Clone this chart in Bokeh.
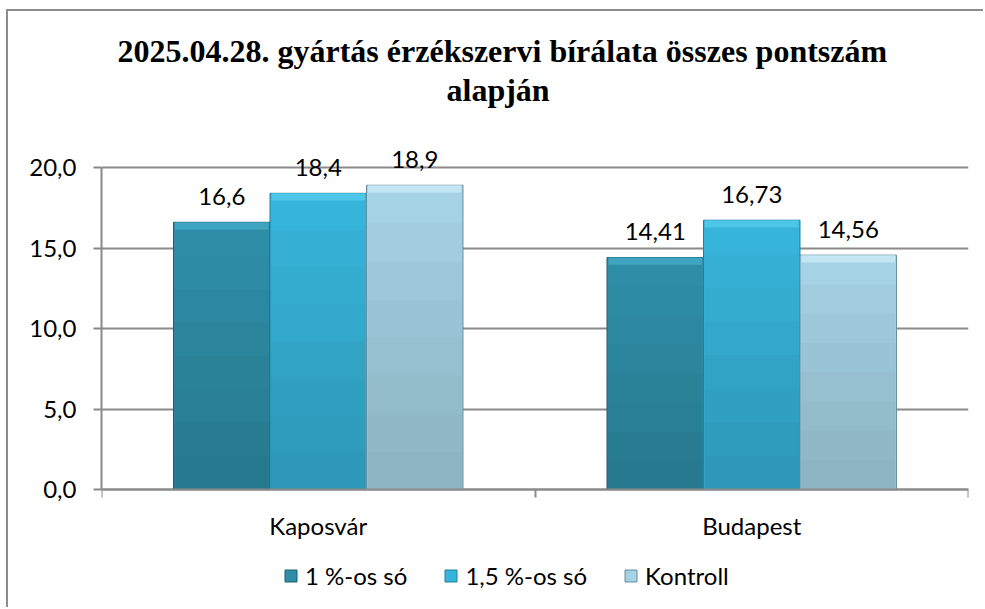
from bokeh.plotting import figure
from bokeh.models import (ColumnDataSource, Range1d, FixedTicker, Title, Legend,
                          LegendItem, LabelSet)
from bokeh.core.properties import value
from bokeh.transform import dodge
from bokeh.embed import file_html
from bokeh.resources import INLINE

# ---- data ----
categories = ["Kaposvár", "Budapest"]
series = ["1 %-os só", "1,5 %-os só", "Kontroll"]
vals_1 = [16.6, 14.41]
vals_15 = [18.4, 16.73]
vals_k = [18.9, 14.56]
labels_1 = ["16,6", "14,41"]
labels_15 = ["18,4", "16,73"]
labels_k = ["18,9", "14,56"]
y_ticks = [0, 5, 10, 15, 20]
y_tick_labels = ["0,0", "5,0", "10,0", "15,0", "20,0"]
title_line1 = "2025.04.28. gyártás érzékszervi bírálata összes pontszám"
title_line2 = "alapján"

# ---- styles ----
body_cols = ["#2e8ea8", "#37b4d9", "#a5d2e4"]
top_cols = ["#3ea4c0", "#4dc6e9", "#c3e6f4"]
edge_cols = ["#1e5c6e", "#22809b", "#6a8e9d"]
GRID = "#8a8a8a"
FONT = "Lato"
FS = "24px"
BW = 0.2226
offsets = [-BW, 0.0, BW]
shade_steps = [0.875, 0.75, 0.625, 0.5, 0.375, 0.25, 0.125]  # soft bottom shading

xs = [i + 0.5 for i in range(len(categories))]
cols = dict(x=xs, v1=vals_1, v15=vals_15, vk=vals_k,
            l1=labels_1, l15=labels_15, lk=labels_k)
for key, vals in [("1", vals_1), ("15", vals_15), ("k", vals_k)]:
    cols["t" + key] = [v - 0.45 for v in vals]
    for j, f in enumerate(shade_steps):
        cols["s%s_%d" % (key, j)] = [v * f for v in vals]
source = ColumnDataSource(cols)

p = figure(width=977, height=598, x_range=Range1d(0, len(categories)),
           y_range=Range1d(-7.45, 23.73), output_backend="svg", toolbar_location=None,
           min_border_left=93, min_border_right=17, min_border_top=96,
           min_border_bottom=0)
p.styles = {"border-left": "2px solid #8c8c8c", "border-top": "2px solid #8c8c8c",
            "margin-left": "6px", "margin-top": "9px"}
p.outline_line_color = None
p.background_fill_color = "white"
p.border_fill_color = "white"

renderers = []
for k, key in enumerate(["1", "15", "k"]):
    xk = dodge("x", offsets[k], range=p.x_range)
    r = p.vbar(x=xk, top="v" + key, bottom=0, width=BW, source=source,
               fill_color=body_cols[k], line_color=edge_cols[k], line_width=1)
    for j in range(len(shade_steps)):
        p.vbar(x=xk, top="s%s_%d" % (key, j), bottom=0, width=BW * 0.985, source=source,
               fill_color="#000000", fill_alpha=0.02, line_color=None)
    p.vbar(x=xk, top="v" + key, bottom="t" + key, width=BW * 0.97,
           source=source, fill_color=top_cols[k], line_color=None)
    renderers.append(r)
    p.add_layout(LabelSet(x=xk, y="v" + key, text="l" + key,
                          source=source, text_align="center", text_baseline="middle",
                          y_offset=26, text_font=value(FONT), text_font_size=FS,
                          text_color="#000000"))

# y axis
p.yaxis.ticker = FixedTicker(ticks=y_ticks)
p.yaxis.bounds = (y_ticks[0], y_ticks[-1])
p.yaxis.major_label_overrides = {t: l for t, l in zip(y_ticks, y_tick_labels)}
p.yaxis.major_tick_out = 8
p.yaxis.major_tick_in = 0
p.yaxis.minor_tick_line_color = None
p.yaxis.axis_line_color = GRID
p.yaxis.axis_line_width = 2
p.yaxis.major_tick_line_color = GRID
p.yaxis.major_tick_line_width = 2
p.yaxis.major_label_text_font = FONT
p.yaxis.major_label_text_font_size = FS
p.yaxis.major_label_text_color = "#000000"
p.yaxis.major_label_standoff = 17

# x axis (sits on y = 0)
p.xaxis.fixed_location = 0
p.xaxis.ticker = FixedTicker(ticks=xs, minor_ticks=list(range(len(categories) + 1)))
p.xaxis.major_label_overrides = {x: c for x, c in zip(xs, categories)}
p.xaxis.major_tick_line_color = None
p.xaxis.major_tick_out = 0
p.xaxis.major_tick_in = 0
p.xaxis.minor_tick_out = 8
p.xaxis.minor_tick_in = 0
p.xaxis.minor_tick_line_color = GRID
p.xaxis.minor_tick_line_width = 2
p.xaxis.axis_line_color = GRID
p.xaxis.axis_line_width = 2
p.xaxis.major_label_text_font = FONT
p.xaxis.major_label_text_font_size = FS
p.xaxis.major_label_text_color = "#000000"
p.xaxis.major_label_standoff = 13

p.xgrid.visible = False
p.ygrid.grid_line_color = GRID
p.ygrid.grid_line_width = 2

legend = Legend(items=[LegendItem(label=s, renderers=[r]) for s, r in zip(series, renderers)],
                orientation="horizontal", location=(182, 19),
                label_text_font=FONT, label_text_font_size=FS, label_text_color="#000000",
                glyph_width=15, glyph_height=15, label_standoff=7, spacing=36,
                border_line_color=None, background_fill_alpha=0, padding=0, margin=0)
p.add_layout(legend)

p.add_layout(Title(text=title_line2, align="left", offset=345, standoff=0,
                   text_font="Liberation Serif", text_font_style="bold",
                   text_font_size="32px", text_color="#000000"), "above")
p.add_layout(Title(text=title_line1, align="left", offset=16, standoff=2,
                   text_font="Liberation Serif", text_font_style="bold",
                   text_font_size="32px", text_color="#000000"), "above")

open("out.html", "w").write(file_html(p, INLINE))
